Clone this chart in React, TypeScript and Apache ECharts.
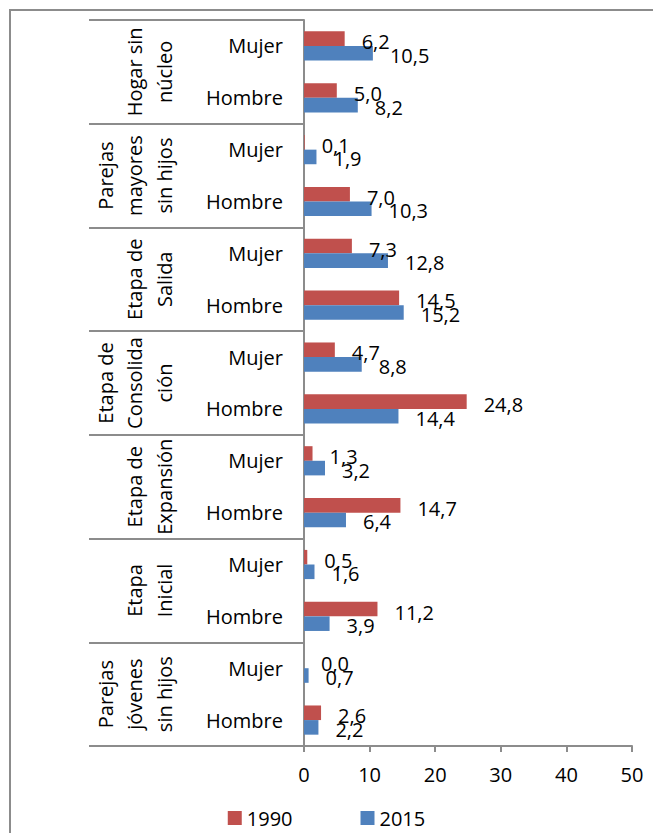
import React, { useEffect, useRef } from "react";
import * as echarts from "echarts";

// Household-type groups (top to bottom), each split by sex of the head of household
const groupLabels = [
  "Hogar sin\nnúcleo",
  "Parejas\nmayores\nsin hijos",
  "Etapa de\nSalida",
  "Etapa de\nConsolida\nción",
  "Etapa de\nExpansión",
  "Etapa\nInicial",
  "Parejas\njóvenes\nsin hijos",
];
const sexLabels = ["Mujer", "Hombre"];
const categories = groupLabels.flatMap(() => sexLabels);

const seriesNames = ["1990", "2015"];
const values1990 = [6.2, 5.0, 0.1, 7.0, 7.3, 14.5, 4.7, 24.8, 1.3, 14.7, 0.5, 11.2, 0.0, 2.6];
const values2015 = [10.5, 8.2, 1.9, 10.3, 12.8, 15.2, 8.8, 14.4, 3.2, 6.4, 1.6, 3.9, 0.7, 2.2];

const xTicks = { min: 0, max: 50, interval: 10 };

const FONT = "'Open Sans', sans-serif";
const GRAY = "#8c8c8c";

const fmt = (v: number) => v.toFixed(1).replace(".", ",");

export default function App() {
  const ref = useRef<HTMLDivElement>(null);

  useEffect(() => {
    if (!ref.current) return;
    const chart = echarts.init(ref.current, null, { renderer: "svg" });
    const label = (dy: number) => ({
      show: true,
      position: "right" as const,
      distance: 17,
      offset: [0, dy],
      fontFamily: FONT,
      fontSize: 20,
      color: "#000",
      formatter: (p: any) => fmt(p.value),
    });
    chart.setOption({
      animation: false,
      textStyle: { fontFamily: FONT },
      graphic: [
        // chart-area frame; its right and bottom edges run past the page
        {
          type: "line",
          shape: { x1: 9, y1: 10, x2: 700, y2: 10 },
          style: { stroke: GRAY, lineWidth: 2 },
          silent: true,
        },
        {
          type: "line",
          shape: { x1: 10, y1: 9, x2: 10, y2: 900 },
          style: { stroke: GRAY, lineWidth: 2 },
          silent: true,
        },
      ],
      grid: { left: 304, right: 21, top: 20, bottom: 87 },
      legend: {
        top: 803,
        left: "center",
        icon: "rect",
        itemWidth: 14,
        itemHeight: 14,
        itemGap: 68,
        textStyle: { fontFamily: FONT, fontSize: 20, color: "#000" },
        data: seriesNames,
      },
      xAxis: {
        type: "value",
        min: xTicks.min,
        max: xTicks.max,
        interval: xTicks.interval,
        axisLine: { show: true, lineStyle: { color: GRAY, width: 2 } },
        axisTick: { show: true, length: 6, lineStyle: { color: GRAY, width: 2 } },
        splitLine: { show: false },
        axisLabel: { fontFamily: FONT, fontSize: 20, color: "#000", margin: 18 },
      },
      yAxis: [
        {
          type: "category",
          data: categories,
          inverse: true,
          position: "left",
          axisLine: { show: true, lineStyle: { color: GRAY, width: 2 } },
          axisTick: { show: false },
          axisLabel: {
            interval: 0,
            margin: 21,
            fontFamily: FONT,
            fontSize: 20,
            color: "#000",
          },
        },
        {
          type: "category",
          data: groupLabels,
          inverse: true,
          position: "left",
          axisLine: { show: false },
          axisTick: {
            show: true,
            interval: 0,
            length: 215,
            lineStyle: { color: GRAY, width: 2 },
          },
          axisLabel: {
            interval: 0,
            rotate: 90,
            margin: 125,
            lineHeight: 29.5,
            fontFamily: FONT,
            fontSize: 20,
            color: "#000",
          },
        },
      ],
      series: [
        {
          name: seriesNames[0],
          type: "bar",
          yAxisIndex: 0,
          data: values1990,
          barWidth: 14.6,
          barGap: "0%",
          itemStyle: { color: "#C0504D" },
          label: label(3),
        },
        {
          name: seriesNames[1],
          type: "bar",
          yAxisIndex: 0,
          data: values2015,
          barWidth: 14.6,
          barGap: "0%",
          itemStyle: { color: "#4F81BD" },
          label: label(2),
        },
      ],
    });
    return () => chart.dispose();
  }, []);

  return (
    <div
      ref={ref}
      style={{ position: "absolute", left: 0, top: 0, width: 653, height: 833 }}
    />
  );
}
